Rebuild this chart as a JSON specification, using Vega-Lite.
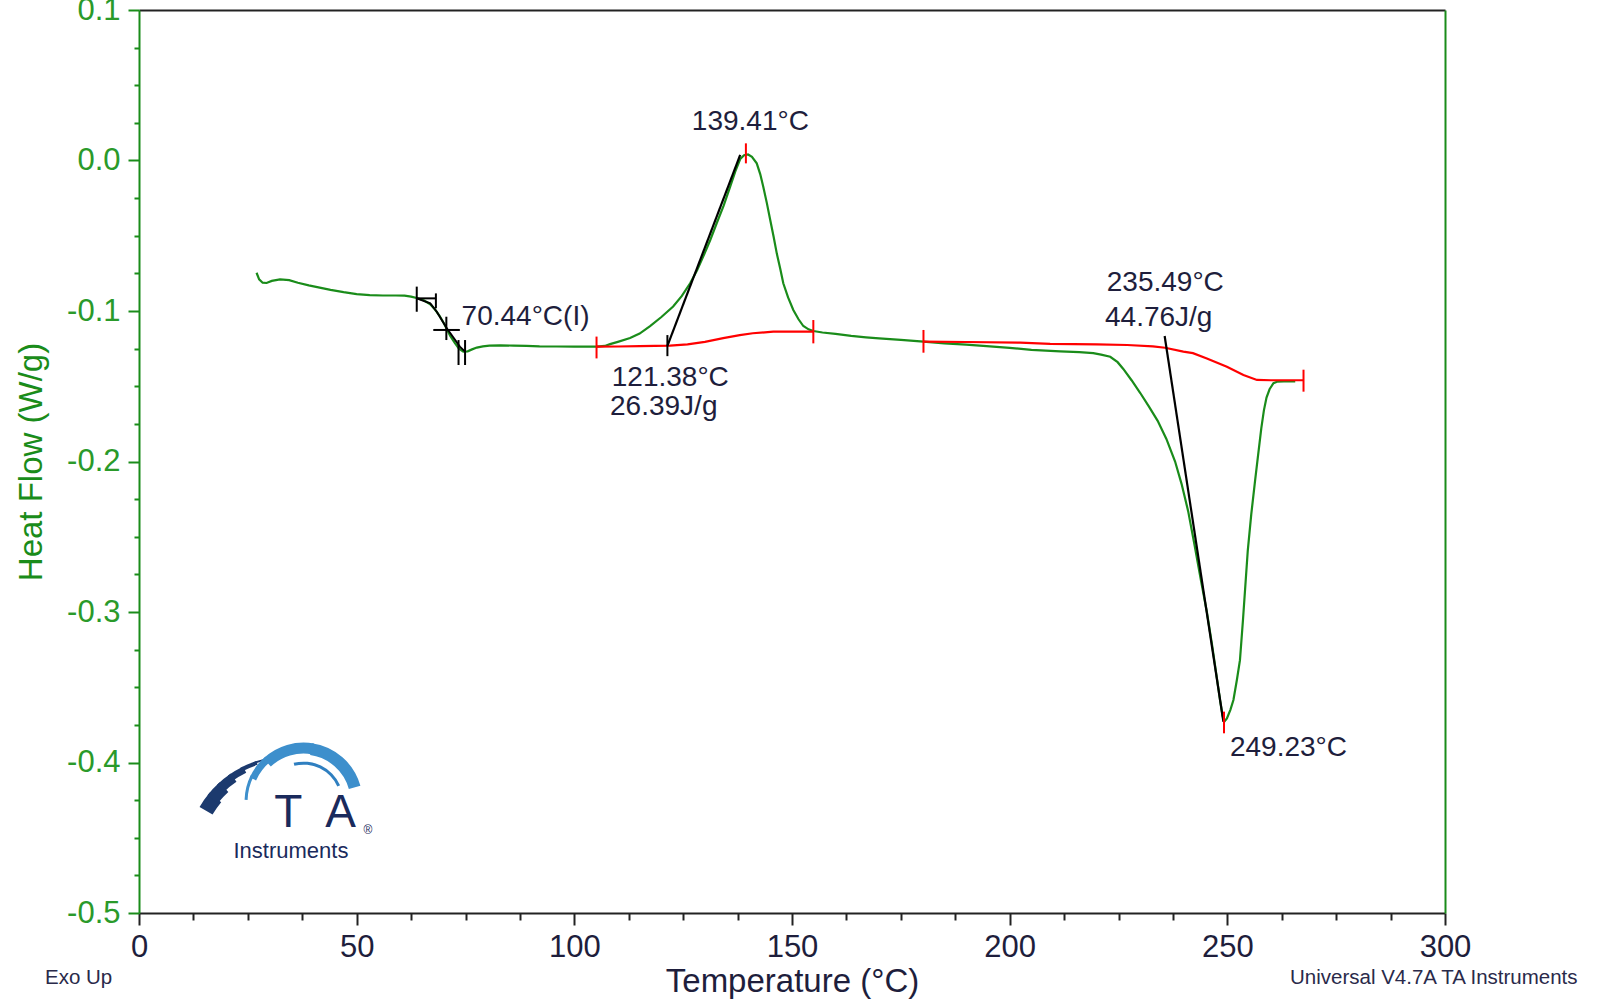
{
 "$schema": "https://vega.github.io/schema/vega-lite/v6.json",
 "width": 1306, "height": 903,
 "autosize": {"type": "none"},
 "padding": {"left": 139, "top": 10, "right": 153, "bottom": 90},
 "background": "white",
 "config": {"view": {"stroke": null}, "font": "Liberation Sans"},
 "datasets": {
  "green": [
   {"temp":27.0,"hf":-0.0746},{"temp":27.6,"hf":-0.0790},{"temp":28.4,"hf":-0.0812},{"temp":29.3,"hf":-0.0814},{"temp":30.5,"hf":-0.0800},{"temp":32.4,"hf":-0.0790},{"temp":34.5,"hf":-0.0795},{"temp":36.5,"hf":-0.0812},{"temp":39.0,"hf":-0.0830},{"temp":41.5,"hf":-0.0845},{"temp":44.0,"hf":-0.0860},{"temp":47.0,"hf":-0.0875},{"temp":50.0,"hf":-0.0888},{"temp":53.0,"hf":-0.0895},{"temp":56.0,"hf":-0.0897},{"temp":59.0,"hf":-0.0897},{"temp":61.0,"hf":-0.0898},{"temp":62.5,"hf":-0.0905},{"temp":64.0,"hf":-0.0915},{"temp":65.5,"hf":-0.0930},{"temp":66.9,"hf":-0.0955},{"temp":68.0,"hf":-0.0990},{"temp":69.0,"hf":-0.1030},{"temp":70.0,"hf":-0.1080},{"temp":70.7,"hf":-0.1120},{"temp":71.5,"hf":-0.1165},{"temp":72.5,"hf":-0.1210},{"temp":73.5,"hf":-0.1250},{"temp":74.5,"hf":-0.1270},{"temp":75.5,"hf":-0.1268},{"temp":76.5,"hf":-0.1255},{"temp":77.6,"hf":-0.1243},{"temp":79.0,"hf":-0.1235},{"temp":80.5,"hf":-0.1230},{"temp":83.0,"hf":-0.1228},{"temp":86.0,"hf":-0.1230},{"temp":89.0,"hf":-0.1232},{"temp":92.0,"hf":-0.1235},{"temp":96.0,"hf":-0.1236},{"temp":100.0,"hf":-0.1237},{"temp":105.1,"hf":-0.1237},
   {"temp":107.0,"hf":-0.1232},{"temp":108.2,"hf":-0.1220},{"temp":110.0,"hf":-0.1205},{"temp":112.8,"hf":-0.1180},{"temp":115.0,"hf":-0.1150},{"temp":117.4,"hf":-0.1100},{"temp":120.0,"hf":-0.1040},{"temp":122.7,"hf":-0.0970},{"temp":124.7,"hf":-0.0900},{"temp":126.6,"hf":-0.0816},{"temp":128.2,"hf":-0.0730},{"temp":129.6,"hf":-0.0639},{"temp":131.2,"hf":-0.0530},{"temp":132.7,"hf":-0.0417},{"temp":134.3,"hf":-0.0300},{"temp":135.8,"hf":-0.0174},{"temp":137.0,"hf":-0.0070},{"temp":138.1,"hf":0.0010},{"temp":139.0,"hf":0.0035},{"temp":139.9,"hf":0.0040},{"temp":140.8,"hf":0.0025},{"temp":141.9,"hf":-0.0019},{"temp":142.7,"hf":-0.0090},{"temp":143.4,"hf":-0.0174},{"temp":144.2,"hf":-0.0280},{"temp":145.0,"hf":-0.0395},{"temp":145.8,"hf":-0.0510},{"temp":146.5,"hf":-0.0617},{"temp":147.3,"hf":-0.0720},{"temp":148.0,"hf":-0.0816},{"temp":149.1,"hf":-0.0910},{"temp":150.3,"hf":-0.0993},{"temp":151.5,"hf":-0.1055},{"temp":152.6,"hf":-0.1100},{"temp":153.8,"hf":-0.1122},{"temp":154.9,"hf":-0.1133},{"temp":157.0,"hf":-0.1143},{"temp":160.0,"hf":-0.1152},{"temp":163.6,"hf":-0.1165},{"temp":167.0,"hf":-0.1175},{"temp":170.0,"hf":-0.1182},{"temp":175.0,"hf":-0.1192},{"temp":180.2,"hf":-0.1204},{"temp":185.0,"hf":-0.1215},{"temp":190.0,"hf":-0.1224},{"temp":194.7,"hf":-0.1233},{"temp":200.0,"hf":-0.1245},{"temp":205.0,"hf":-0.1258},{"temp":211.6,"hf":-0.1268},{"temp":216.0,"hf":-0.1273},{"temp":219.2,"hf":-0.1280},{"temp":221.0,"hf":-0.1290},{"temp":223.1,"hf":-0.1304},{"temp":224.8,"hf":-0.1340},{"temp":226.1,"hf":-0.1385},{"temp":228.0,"hf":-0.1460},{"temp":230.0,"hf":-0.1545},{"temp":232.0,"hf":-0.1635},{"temp":234.0,"hf":-0.1730},{"temp":236.0,"hf":-0.1850},{"temp":238.0,"hf":-0.2000},{"temp":239.5,"hf":-0.2150},{"temp":241.0,"hf":-0.2330},{"temp":242.5,"hf":-0.2560},{"temp":244.0,"hf":-0.2800},{"temp":245.3,"hf":-0.3000},{"temp":246.5,"hf":-0.3220},{"temp":247.5,"hf":-0.3420},{"temp":248.3,"hf":-0.3580},{"temp":248.9,"hf":-0.3690},{"temp":249.3,"hf":-0.3729},{"temp":249.9,"hf":-0.3707},{"temp":250.7,"hf":-0.3650},{"temp":251.4,"hf":-0.3585},{"temp":252.2,"hf":-0.3450},{"temp":252.9,"hf":-0.3320},{"temp":253.6,"hf":-0.3050},{"temp":254.7,"hf":-0.2590},{"temp":255.5,"hf":-0.2350},{"temp":256.4,"hf":-0.2120},{"temp":257.1,"hf":-0.1950},{"temp":257.8,"hf":-0.1780},{"temp":258.4,"hf":-0.1660},{"temp":259.0,"hf":-0.1575},{"temp":259.7,"hf":-0.1520},{"temp":260.6,"hf":-0.1480},{"temp":261.4,"hf":-0.1470},{"temp":263.0,"hf":-0.1468},{"temp":265.6,"hf":-0.1468}
  ],
  "red1": [
   {"temp":105.1,"hf":-0.1237},{"temp":110,"hf":-0.1236},{"temp":115,"hf":-0.1234},{"temp":122.0,"hf":-0.1230},{"temp":126,"hf":-0.1222},{"temp":130,"hf":-0.1205},{"temp":134.2,"hf":-0.1180},{"temp":138,"hf":-0.1160},{"temp":141,"hf":-0.1148},{"temp":145.7,"hf":-0.1137},{"temp":150,"hf":-0.1137},{"temp":154.9,"hf":-0.1137}
  ],
  "red2": [
   {"temp":180.2,"hf":-0.1204},{"temp":190,"hf":-0.1206},{"temp":202.4,"hf":-0.1210},{"temp":209.3,"hf":-0.1218},{"temp":220,"hf":-0.1222},{"temp":227,"hf":-0.1226},{"temp":232.9,"hf":-0.1235},{"temp":235.7,"hf":-0.1244},{"temp":239.9,"hf":-0.1270},{"temp":242.1,"hf":-0.1280},{"temp":245.3,"hf":-0.1315},{"temp":249.9,"hf":-0.1370},{"temp":253.7,"hf":-0.1425},{"temp":256.8,"hf":-0.1458},{"temp":260,"hf":-0.1460},{"temp":267.5,"hf":-0.1460}
  ],
  "gt": [
   {"temp":63.8,"hf":-0.0916},{"temp":66.9,"hf":-0.0949},{"temp":68.4,"hf":-0.1005},{"temp":70.7,"hf":-0.1115},{"temp":73.7,"hf":-0.1237},{"temp":74.9,"hf":-0.1270}
  ],
  "tan1": [{"temp":121.38,"hf":-0.1232},{"temp":138.1,"hf":0.0037}],
  "tan2": [{"temp":235.6,"hf":-0.1166},{"temp":249.1,"hf":-0.3729}],
  "blackV": [
   {"temp":121.38,"hf":-0.116,"hf2":-0.130},
   {"temp":63.8,"hf":-0.0838,"hf2":-0.1005},
   {"temp":68.2,"hf":-0.0883,"hf2":-0.0982},
   {"temp":70.6,"hf":-0.1038,"hf2":-0.1193},
   {"temp":73.4,"hf":-0.1193,"hf2":-0.1359},
   {"temp":74.9,"hf":-0.1193,"hf2":-0.1359}
  ],
  "blackH": [
   {"temp":67.6,"temp2":73.7,"hf":-0.1126},
   {"temp":63.8,"temp2":68.2,"hf":-0.0916}
  ],
  "redV": [
   {"temp":105.1,"hf":-0.117,"hf2":-0.1315},
   {"temp":139.41,"hf":0.0114,"hf2":-0.0019},
   {"temp":154.9,"hf":-0.106,"hf2":-0.1215},
   {"temp":180.2,"hf":-0.1126,"hf2":-0.1277},
   {"temp":249.23,"hf":-0.3662,"hf2":-0.3806},
   {"temp":267.5,"hf":-0.139,"hf2":-0.1536}
  ],
  "ann": [
   {"temp":74.1,"hf":-0.1038,"label":"70.44°C(I)"},
   {"temp":127.0,"hf":0.0258,"label":"139.41°C"},
   {"temp":108.6,"hf":-0.1447,"label":"121.38°C"},
   {"temp":108.2,"hf":-0.1636,"label":"26.39J/g"},
   {"temp":222.3,"hf":-0.0816,"label":"235.49°C"},
   {"temp":221.9,"hf":-0.1049,"label":"44.76J/g"},
   {"temp":250.6,"hf":-0.3906,"label":"249.23°C"}
  ],
  "foot": [
   {"temp":-21.6,"hf":-0.5432,"label":"Exo Up"},
   {"temp":264.4,"hf":-0.5432,"label":"Universal V4.7A TA Instruments"}
  ],
  "navyC": [{"temp":34.2,"hf":-0.4635}],
  "blueC": [{"temp":37.8,"hf":-0.426}],
  "logoTA": [{"temp":34.3,"hf":-0.4429,"label":"T"},{"temp":46.3,"hf":-0.4429,"label":"A"}],
  "logoInst": [{"temp":34.9,"hf":-0.4635,"label":"Instruments"}],
  "logoR": [{"temp":52.6,"hf":-0.4449,"label":"®"}]
 },
 "encoding": {
  "x": {"field": "temp", "type": "quantitative", "scale": {"domain": [0, 300], "nice": false, "zero": false}, "axis": null},
  "y": {"field": "hf", "type": "quantitative", "scale": {"domain": [-0.5, 0.1], "nice": false, "zero": false}, "axis": null}
 },
 "layer": [
  {
   "data": {"name": "green"},
   "mark": {"type": "line", "color": "#1a8c1a", "strokeWidth": 2.2},
   "encoding": {
    "x": {"field": "temp", "type": "quantitative", "scale": {"domain": [0, 300], "nice": false, "zero": false},
     "axis": {"orient": "bottom", "values": [0,12.5,25,37.5,50,62.5,75,87.5,100,112.5,125,137.5,150,162.5,175,187.5,200,212.5,225,237.5,250,262.5,275,287.5,300],
      "labelExpr": "datum.value % 50 === 0 ? format(datum.value, 'd') : ''", "labelOverlap": false, "labelFlush": false,
      "labelFont": "Liberation Sans", "labelFontSize": 31, "labelColor": "#1e1e3c", "labelPadding": 7,
      "tickSize": {"condition": {"test": "datum.value % 50 === 0", "value": 12}, "value": 7},
      "tickColor": "#222222", "tickWidth": 2, "domainColor": "#222222", "domainWidth": 2, "grid": false,
      "title": "Temperature (°C)", "titleFont": "Liberation Sans", "titleFontSize": 33, "titleFontWeight": "normal", "titleColor": "#1e1e3c", "titlePadding": 3}},
    "y": {"field": "hf", "type": "quantitative", "scale": {"domain": [-0.5, 0.1], "nice": false, "zero": false},
     "axis": {"orient": "left", "values": [-0.5,-0.475,-0.45,-0.425,-0.4,-0.375,-0.35,-0.325,-0.3,-0.275,-0.25,-0.225,-0.2,-0.175,-0.15,-0.125,-0.1,-0.075,-0.05,-0.025,0,0.025,0.05,0.075,0.1],
      "labelExpr": "abs(round(datum.value*10) - datum.value*10) < 0.001 ? (datum.value < -0.001 ? '-' : '') + format(abs(datum.value), '.1f') : ''",
      "labelOverlap": false, "labelFont": "Liberation Sans", "labelFontSize": 31, "labelColor": "#2a9a2a", "labelPadding": 8,
      "tickSize": {"condition": {"test": "abs(round(datum.value*10) - datum.value*10) < 0.001", "value": 11}, "value": 5},
      "tickColor": "#1a8c1a", "tickWidth": 2, "domainColor": "#1a8c1a", "domainWidth": 2, "grid": false,
      "title": "Heat Flow (W/g)", "titleFont": "Liberation Sans", "titleFontSize": 33, "titleFontWeight": "normal", "titleColor": "#1a8c1a", "titlePadding": 18}}
   }
  },
  {
   "data": {"name": "red1"},
   "mark": {"type": "line", "color": "#ff0000", "strokeWidth": 2.2},
   "encoding": {}
  },
  {
   "data": {"name": "red2"},
   "mark": {"type": "line", "color": "#ff0000", "strokeWidth": 2.2},
   "encoding": {
    "x": {"field": "temp", "type": "quantitative", "scale": {"domain": [0, 300], "nice": false, "zero": false},
     "axis": {"orient": "top", "labels": false, "ticks": false, "domainColor": "#222222", "domainWidth": 2, "grid": false, "title": null}},
    "y": {"field": "hf", "type": "quantitative", "scale": {"domain": [-0.5, 0.1], "nice": false, "zero": false},
     "axis": {"orient": "right", "labels": false, "ticks": false, "domainColor": "#1a8c1a", "domainWidth": 2, "grid": false, "title": null}}
   }
  },
  {"data": {"name": "gt"}, "mark": {"type": "line", "color": "#000000", "strokeWidth": 2}, "encoding": {}},
  {"data": {"name": "tan1"}, "mark": {"type": "line", "color": "#000000", "strokeWidth": 2.2}, "encoding": {}},
  {"data": {"name": "tan2"}, "mark": {"type": "line", "color": "#000000", "strokeWidth": 2.2}, "encoding": {}},
  {"data": {"name": "blackV"}, "mark": {"type": "rule", "color": "#000000", "strokeWidth": 2}, "encoding": {"y2": {"field": "hf2"}}},
  {"data": {"name": "blackH"}, "mark": {"type": "rule", "color": "#000000", "strokeWidth": 2}, "encoding": {"x2": {"field": "temp2"}}},
  {"data": {"name": "redV"}, "mark": {"type": "rule", "color": "#ff0000", "strokeWidth": 2}, "encoding": {"y2": {"field": "hf2"}}},
  {"data": {"name": "ann"}, "mark": {"type": "text", "align": "left", "baseline": "middle", "font": "Liberation Sans", "fontSize": 28, "color": "#1e1e3c"}, "encoding": {"text": {"field": "label"}}},
  {"data": {"name": "foot"}, "mark": {"type": "text", "align": "left", "baseline": "middle", "font": "Liberation Sans", "fontSize": 20.5, "color": "#2a2a4a"}, "encoding": {"text": {"field": "label"}}},
  {"data": {"name": "navyC"}, "mark": {"type": "arc", "color": "#1c3a6e", "radius": 102, "radius2": 87, "theta": -1.047, "theta2": -0.873}, "encoding": {}},
  {"data": {"name": "navyC"}, "mark": {"type": "arc", "color": "#1c3a6e", "radius": 102, "radius2": 89, "theta": -0.908, "theta2": -0.733}, "encoding": {}},
  {"data": {"name": "navyC"}, "mark": {"type": "arc", "color": "#1c3a6e", "radius": 102, "radius2": 92, "theta": -0.768, "theta2": -0.593}, "encoding": {}},
  {"data": {"name": "navyC"}, "mark": {"type": "arc", "color": "#1c3a6e", "radius": 102, "radius2": 95, "theta": -0.628, "theta2": -0.454}, "encoding": {}},
  {"data": {"name": "navyC"}, "mark": {"type": "arc", "color": "#1c3a6e", "radius": 102, "radius2": 98, "theta": -0.489, "theta2": -0.314}, "encoding": {}},
  {"data": {"name": "navyC"}, "mark": {"type": "arc", "color": "#1c3a6e", "radius": 102, "radius2": 100, "theta": -0.349, "theta2": -0.175}, "encoding": {}},
  {"data": {"name": "blueC"}, "mark": {"type": "arc", "color": "#3d8fcc", "radius": 59, "radius2": 56, "theta": -1.54, "theta2": -1.1}, "encoding": {}},
  {"data": {"name": "blueC"}, "mark": {"type": "arc", "color": "#3d8fcc", "radius": 59, "radius2": 52, "theta": -1.15, "theta2": -0.7}, "encoding": {}},
  {"data": {"name": "blueC"}, "mark": {"type": "arc", "color": "#3d8fcc", "radius": 59, "radius2": 48, "theta": -0.75, "theta2": 0.18}, "encoding": {}},
  {"data": {"name": "blueC"}, "mark": {"type": "arc", "color": "#3d8fcc", "radius": 59, "radius2": 47, "theta": 0.14, "theta2": 1.3}, "encoding": {}},
  {"data": {"name": "blueC"}, "mark": {"type": "arc", "color": "#2f7fc0", "radius": 40, "radius2": 37, "theta": -0.25, "theta2": 1.15}, "encoding": {}},
  {"data": {"name": "logoTA"}, "mark": {"type": "text", "align": "center", "baseline": "alphabetic", "font": "Liberation Sans", "fontSize": 46, "color": "#1a2a5c"}, "encoding": {"text": {"field": "label"}}},
  {"data": {"name": "logoInst"}, "mark": {"type": "text", "align": "center", "baseline": "alphabetic", "font": "Liberation Sans", "fontSize": 22, "color": "#1a2a5c"}, "encoding": {"text": {"field": "label"}}},
  {"data": {"name": "logoR"}, "mark": {"type": "text", "align": "center", "baseline": "middle", "font": "Liberation Sans", "fontSize": 12, "color": "#1a2a5c"}, "encoding": {"text": {"field": "label"}}}
 ],
 "resolve": {"axis": {"x": "independent", "y": "independent"}}
}
